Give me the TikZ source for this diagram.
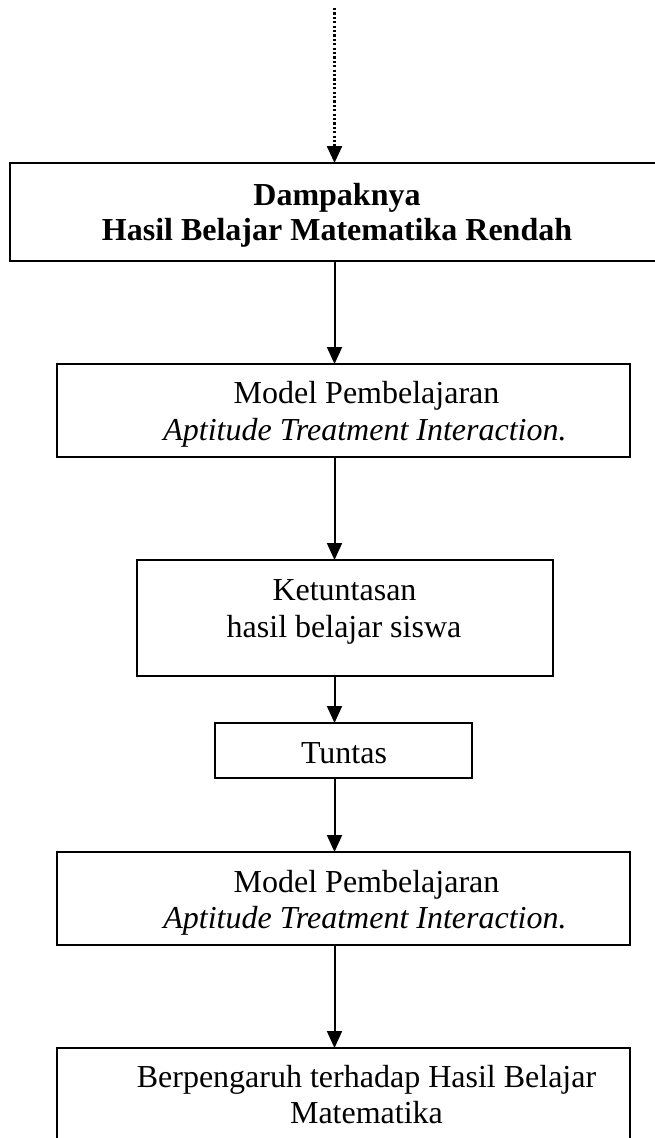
\documentclass[tikz,border=0pt]{standalone}
\usepackage{fontspec}
\setmainfont{Liberation Serif}
\usetikzlibrary{arrows.meta}
\tikzset{
  box/.style={draw=black, line width=2pt, fill=none, inner sep=0pt, outer sep=0pt, shape=rectangle},
  arr/.style={draw=black, line width=2pt, -{Triangle[width=15pt,length=17pt]}},
  dotarr/.style={draw=black, line width=2.4pt, dash pattern=on 2.2pt off 2.2pt, -{Triangle[width=15pt,length=17pt]}},
  txt/.style={anchor=base, inner sep=0pt, outer sep=0pt, font=\fontsize{32}{38}\selectfont},
}
\begin{document}
\begin{tikzpicture}[x=1pt, y=-1pt]
\useasboundingbox (0,0) rectangle (655,1138);
\fill[white] (0,0) rectangle (655,1138);
\clip (0,0) rectangle (655,1138);

\coordinate (ax) at (334.5,0);
\coordinate (top) at (334.5,8);

\node[box, minimum width=650pt, minimum height=98pt] (b1) at (335,212) {};
\node[box, minimum width=573pt, minimum height=93pt] (b2) at (343.5,410.5) {};
\node[box, minimum width=416pt, minimum height=116pt] (b3) at (345,618) {};
\node[box, minimum width=257pt, minimum height=55pt] (b4) at (343.5,750.5) {};
\node[box, minimum width=573pt, minimum height=93pt] (b5) at (343.5,898.5) {};
\node[box, minimum width=573pt, minimum height=102pt] (b6) at (343.5,1099) {};

\node[txt] (t1a) at (337,205) {\textbf{Dampaknya}};
\node[txt] (t1b) at (337,240) {\textbf{Hasil Belajar Matematika Rendah}};
\node[txt] (t2a) at (366.5,403) {Model Pembelajaran};
\node[txt] (t2b) at (365,440) {\textit{Aptitude Treatment Interaction.}};
\node[txt] (t3a) at (344.5,600) {Ketuntasan};
\node[txt] (t3b) at (344,637) {hasil belajar siswa};
\node[txt] (t4) at (344,763) {Tuntas};
\node[txt] (t5a) at (366.5,892) {Model Pembelajaran};
\node[txt] (t5b) at (365,928) {\textit{Aptitude Treatment Interaction.}};
\node[txt] (t6a) at (366.5,1087) {Berpengaruh terhadap Hasil Belajar};
\node[txt] (t6b) at (366.5,1123) {Matematika};

\draw[dotarr] (top) -- (b1.north -| ax);
\draw[arr] (b1.south -| ax) -- (b2.north -| ax);
\draw[arr] (b2.south -| ax) -- (b3.north -| ax);
\draw[arr] (b3.south -| ax) -- (b4.north -| ax);
\draw[arr] (b4.south -| ax) -- (b5.north -| ax);
\draw[arr] (b5.south -| ax) -- (b6.north -| ax);
\end{tikzpicture}
\end{document}
